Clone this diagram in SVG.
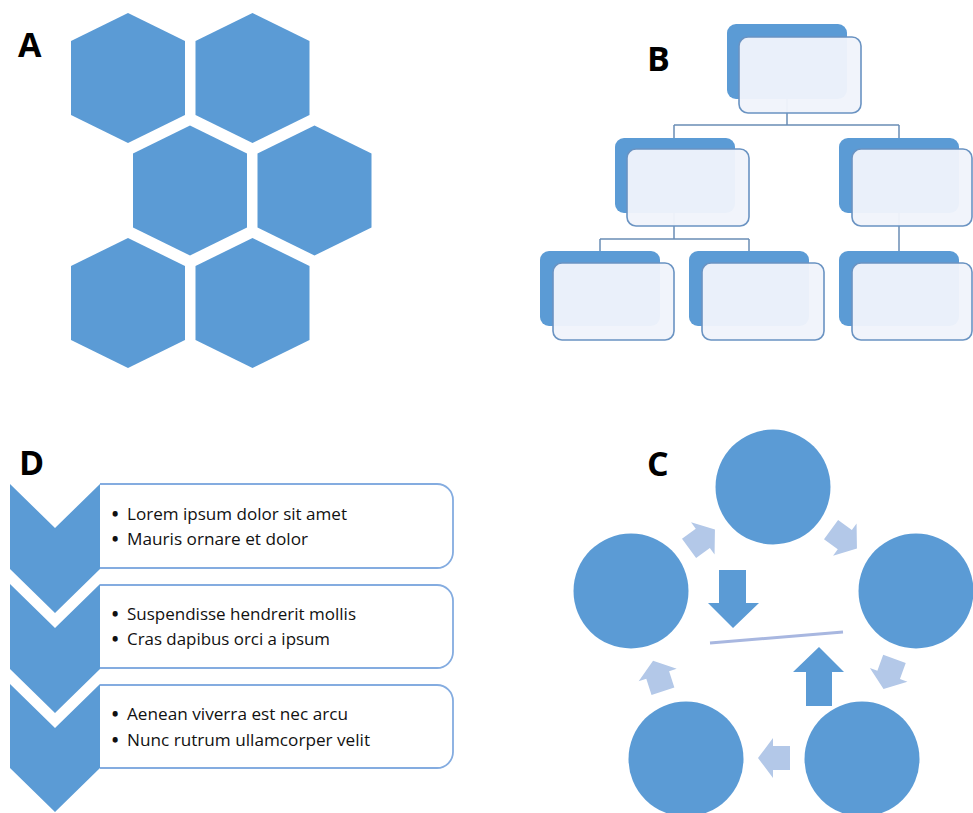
<svg xmlns="http://www.w3.org/2000/svg" xmlns:xlink="http://www.w3.org/1999/xlink" width="973" height="813" viewBox="0 0 973 813">
<style>
.lbl{font-family:"Open Sans","Liberation Sans",sans-serif;font-weight:700;font-size:34px;fill:#000}
.fill{fill:#5b9bd5}
.back{fill:#5b9bd5}
.front{fill:#f0f4fb;fill-opacity:0.96;stroke:#6a93c2;stroke-width:1.6}
.conn{fill:none;stroke:#6a8db5;stroke-width:1.5}
.light{fill:#b3c8e8}
.box{fill:#fff;stroke:#84ace0;stroke-width:1.8}
.txt{font-family:"Open Sans","Liberation Sans",sans-serif;font-size:16px;fill:#111}
.bul{font-weight:800}
</style>
<defs>
<polygon id="hex" points="0,-65 57,-37 57,37 0,65 -57,37 -57,-37"/>
<polygon id="sarrow" points="-16,-12 1,-12 1,-20 16,0 1,20 1,12 -16,12"/>
</defs>

<!-- Panel A -->
<text class="lbl" x="18" y="57">A</text>
<g id="hex1" class="fill"><use href="#hex" x="128" y="78"/></g>
<g id="hex2" class="fill"><use href="#hex" x="252.5" y="78"/></g>
<g id="hex3" class="fill"><use href="#hex" x="190" y="190.5"/></g>
<g id="hex4" class="fill"><use href="#hex" x="314.5" y="190.5"/></g>
<g id="hex5" class="fill"><use href="#hex" x="128" y="303"/></g>
<g id="hex6" class="fill"><use href="#hex" x="252.5" y="303"/></g>

<!-- Panel B -->
<text class="lbl" x="647" y="71">B</text>
<g id="b-connectors" class="conn">
<path d="M787,99 V125 M674,125 H899 M674,125 V138 M899,125 V138"/>
<path d="M674,213 V239 M600,239 H749 M600,239 V251 M749,239 V251"/>
<path d="M899,213 V251"/>
</g>
<g id="b-top"><rect class="back" x="727" y="24" width="120" height="75" rx="9"/><rect class="front" x="739" y="37" width="122" height="76" rx="9"/></g>
<g id="b-l2a"><rect class="back" x="615" y="138" width="120" height="75" rx="9"/><rect class="front" x="627" y="149" width="122" height="77" rx="9"/></g>
<g id="b-l2b"><rect class="back" x="839" y="138" width="120" height="75" rx="9"/><rect class="front" x="852" y="149" width="120" height="77" rx="9"/></g>
<g id="b-l3a"><rect class="back" x="540" y="251" width="120" height="75" rx="9"/><rect class="front" x="553" y="263" width="121" height="77" rx="9"/></g>
<g id="b-l3b"><rect class="back" x="689" y="251" width="120" height="75" rx="9"/><rect class="front" x="702" y="263" width="122" height="77" rx="9"/></g>
<g id="b-l3c"><rect class="back" x="839" y="251" width="120" height="75" rx="9"/><rect class="front" x="852" y="263" width="120" height="77" rx="9"/></g>

<!-- Panel C -->
<text class="lbl" x="647" y="476">C</text>
<g id="c-arrows">
<use class="light" href="#sarrow" transform="translate(702,539) rotate(-36)"/>
<use class="light" href="#sarrow" transform="translate(844,539) rotate(36)"/>
<use class="light" href="#sarrow" transform="translate(889,674) rotate(110)"/>
<use class="light" href="#sarrow" transform="translate(774,758) rotate(180)"/>
<use class="light" href="#sarrow" transform="translate(658,676) rotate(-108)"/>
<polygon class="fill" points="719,570 746,570 746,603 759,603 733,628 708,603 719,603"/>
<polygon class="fill" points="806,706 832,706 832,672 844,672 819,647 793,672 806,672"/>
<line x1="710" y1="643" x2="843" y2="632" stroke="#a8b7e0" stroke-width="3"/>
</g>
<g id="c1" class="fill"><circle cx="773" cy="487" r="57.5"/></g>
<g id="c2" class="fill"><circle cx="916" cy="591" r="57.5"/></g>
<g id="c3" class="fill"><circle cx="862" cy="759" r="57.5"/></g>
<g id="c4" class="fill"><circle cx="686" cy="759" r="57.5"/></g>
<g id="c5" class="fill"><circle cx="631" cy="591" r="57.5"/></g>

<!-- Panel D -->
<text class="lbl" x="19" y="475">D</text>
<g id="d1">
<path class="box" d="M100,484 H437 A16,16 0 0 1 453,500 V552 A16,16 0 0 1 437,568 H100"/>
<polygon class="fill" points="10,484 55,528 100,484 100,569 55,613 10,569"/>
<text class="txt" x="112" y="520"><tspan class="bul">•</tspan><tspan x="127" textLength="220" lengthAdjust="spacingAndGlyphs">Lorem ipsum dolor sit amet</tspan></text>
<text class="txt" x="112" y="545"><tspan class="bul">•</tspan><tspan x="127" textLength="181" lengthAdjust="spacingAndGlyphs">Mauris ornare et dolor</tspan></text>
</g>
<g id="d2">
<path class="box" d="M100,585 H437 A16,16 0 0 1 453,601 V652 A16,16 0 0 1 437,668 H100"/>
<polygon class="fill" points="10,584 55,628 100,584 100,669 55,713 10,669"/>
<text class="txt" x="112" y="620"><tspan class="bul">•</tspan><tspan x="127" textLength="229" lengthAdjust="spacingAndGlyphs">Suspendisse hendrerit mollis</tspan></text>
<text class="txt" x="112" y="645"><tspan class="bul">•</tspan><tspan x="127" textLength="203" lengthAdjust="spacingAndGlyphs">Cras dapibus orci a ipsum</tspan></text>
</g>
<g id="d3">
<path class="box" d="M100,685 H437 A16,16 0 0 1 453,701 V752 A16,16 0 0 1 437,768 H100"/>
<polygon class="fill" points="10,684 55,728 100,684 100,768 55,812 10,768"/>
<text class="txt" x="112" y="720"><tspan class="bul">•</tspan><tspan x="127" textLength="221" lengthAdjust="spacingAndGlyphs">Aenean viverra est nec arcu</tspan></text>
<text class="txt" x="112" y="746"><tspan class="bul">•</tspan><tspan x="127" textLength="243" lengthAdjust="spacingAndGlyphs">Nunc rutrum ullamcorper velit</tspan></text>
</g>
</svg>
